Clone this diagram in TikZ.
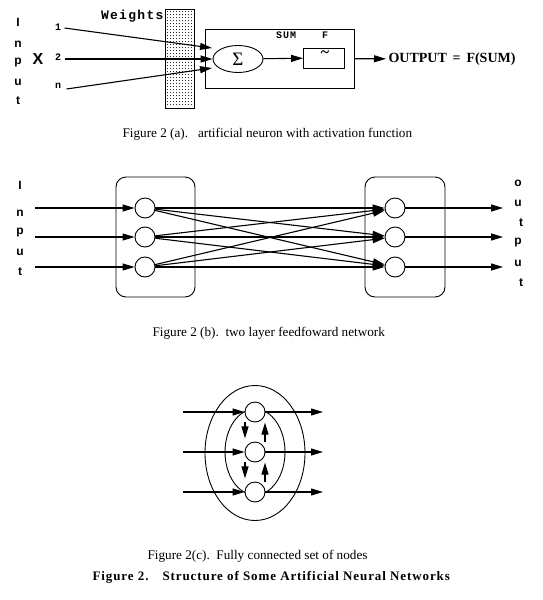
\documentclass[tikz,border=0pt]{standalone}
\usepackage{fontspec}
\setmainfont{Liberation Serif}
\setsansfont{Liberation Sans}
\setmonofont{Liberation Mono}
\newfontfamily\titlefont[LetterSpace=7]{Liberation Serif}
\newfontfamily\typefont[LetterSpace=10]{Liberation Mono}
\usetikzlibrary{arrows.meta,shapes.geometric}

\begin{document}
\begin{tikzpicture}[x=1pt,y=-1pt,line width=1.1pt,
  tip/.style={-{Triangle[length=12pt,width=7pt]}},
  unit/.style={circle,draw,line width=0.9pt,minimum size=20pt,inner sep=0pt},
  layer/.style={draw,line width=0.9pt,rounded corners=10pt},
  letter/.style={font=\sffamily\bfseries\fontsize{12}{12}\selectfont,inner sep=0pt},
  wlabel/.style={font=\ttfamily\bfseries\fontsize{10}{10}\selectfont,inner sep=0pt},
  caption/.style={font=\fontsize{13.2}{13.2}\selectfont,inner sep=0pt}]
\useasboundingbox (0,0) rectangle (543,600);
% (a) artificial neuron
\foreach \c/\y [count=\i] in {I/22,n/44,p/63,u/82,t/101}
  \node[letter] (ia\i) at (18,\y) {\c};
\node[font=\sffamily\bfseries\fontsize{16}{16}\selectfont,inner sep=0pt] (xin) at (38,59) {X};
\node[wlabel] (w1) at (58,27) {1};
\node[wlabel] (w2) at (58,57) {2};
\node[wlabel] (wn) at (58,86) {n};
\node[font=\typefont\bfseries\fontsize{13}{13}\selectfont,inner sep=0pt,anchor=east] (wlab) at (164,16) {Weights};
\draw[line width=0.9pt] (165,9) rectangle (194,108);
\foreach \x in {167.5,170.5,...,192}
  \foreach \y in {11.5,14.5,...,106}
    \fill (\x,\y) circle (0.5pt);
\node[draw,line width=0.9pt,minimum width=149pt,minimum height=59pt,inner sep=0pt] (cell) at (279.5,58.5) {};
\node[ellipse,draw,line width=0.9pt,minimum width=50pt,minimum height=27pt,inner sep=0pt,font=\fontsize{19}{19}\selectfont] (sigma) at (238,59) {Σ};
\node[draw,line width=0.9pt,minimum width=41pt,minimum height=20pt,inner sep=0pt] (fbox) at (324,58) {};
\node[font=\bfseries\fontsize{16}{16}\selectfont,inner sep=0pt] (tilde) at (325,54) {\char`\~};
\node[font=\typefont\bfseries\fontsize{10}{10}\selectfont,inner sep=0pt] (sum) at (286,35) {SUM};
\node[font=\ttfamily\bfseries\fontsize{10}{10}\selectfont,inner sep=0pt] (flab) at (325,35) {F};
\node[font=\bfseries\fontsize{14}{14}\selectfont,inner sep=2pt,anchor=west] (out) at (386,59) {OUTPUT\, =\, F(SUM)};
\draw[tip] (w1.east) ++(3,1) -- (212,48);
\draw[tip] (w2.east) ++(3,2) -- (sigma.west);
\draw[tip] (wn.east) ++(5,3) -- (212,68);
\draw[tip] (sigma) -- (fbox);
\draw[tip] (cell) -- (out);
\node[caption,anchor=west] (capa) at (122,134) {Figure 2 (a).\ \ \ artificial neuron with activation function};
% (b) two layer feedforward network
\node[layer,minimum width=79pt,minimum height=120pt] (lbox) at (155.5,237) {};
\node[layer,minimum width=80pt,minimum height=120pt] (rbox) at (405,237) {};
\foreach \y [count=\i] in {208,237,267} {
  \node[unit] (l\i) at (145,\y) {};
  \node[unit] (r\i) at (395,\y) {};
  \coordinate (in\i) at (35,\y);
  \coordinate (out\i) at (503,\y);
  \draw[tip] (in\i) -- (l\i);
  \draw[tip] (r\i) -- (out\i);
}
\foreach \i in {1,2,3}
  \foreach \j in {1,2,3}
    \draw[tip] (l\i) -- (r\j);
\foreach \c/\y [count=\i] in {I/185,n/213,p/233,u/252,t/272}
  \node[letter] (ib\i) at (20,\y) {\c};
\foreach \c/\x/\y [count=\i] in {o/518/183,u/518/203,t/521/223,p/518/243,u/518/263,t/521/283}
  \node[letter] (ob\i) at (\x,\y) {\c};
\node[caption,anchor=west] (capb) at (152,333) {Figure 2 (b).\ \ two layer feedfoward network};
% (c) fully connected set of nodes
\node[ellipse,draw,line width=0.9pt,minimum width=100pt,minimum height=135pt,inner sep=0pt] (outer) at (255,453) {};
\node[ellipse,draw,line width=0.9pt,minimum width=60pt,minimum height=86pt,inner sep=0pt] (inner) at (255,452) {};
\foreach \y [count=\i] in {412,452,492} {
  \node[unit,fill=white] (c\i) at (255,\y) {};
  \coordinate (cin\i) at (183,\y);
  \coordinate (cout\i) at (323,\y);
  \draw[tip] (cin\i) -- (c\i);
  \draw[tip] (c\i) -- (cout\i);
}
\foreach \i/\j in {1/2,2/3} {
  \draw[tip] ([xshift=-10pt]c\i.south) -- ++(0,16);
  \draw[tip] ([xshift=10pt]c\j.north) -- ++(0,-19);
}
\node[caption,anchor=west] (capc) at (147,556) {Figure 2(c).\ \ Fully connected set of nodes};
\node[font=\titlefont\bfseries\fontsize{13}{13}\selectfont,inner sep=0pt,anchor=west] (title) at (92,577) {Figure 2.\hspace{14pt}Structure of Some Artificial Neural Networks};
\end{tikzpicture}
\end{document}
